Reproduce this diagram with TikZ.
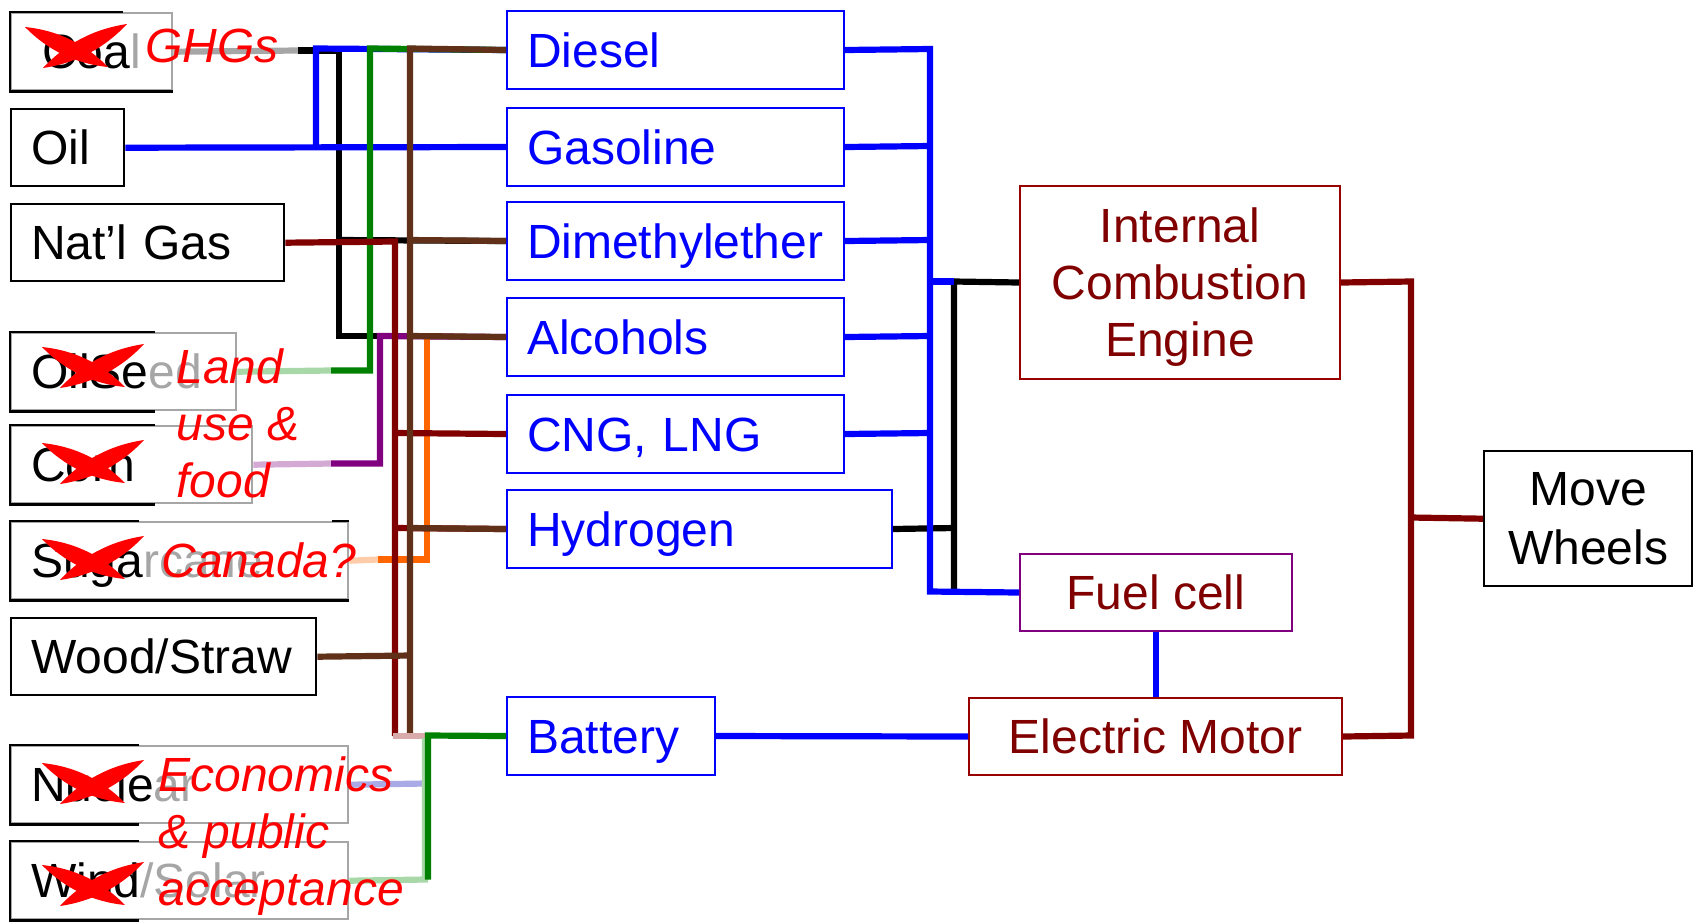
\documentclass[tikz,border=0pt]{standalone}
\usepackage{fontspec}
\setmainfont{Liberation Sans}
\usetikzlibrary{calc}
\definecolor{xblue}{HTML}{0000FF}
\definecolor{xgreen}{HTML}{008000}
\definecolor{xbrown}{HTML}{603018}
\definecolor{xmaroon}{HTML}{800000}
\definecolor{xpurple}{HTML}{800080}
\definecolor{xorange}{HTML}{FF6600}
\definecolor{lgreen}{HTML}{A8D8A8}
\definecolor{lpurple}{HTML}{D4AAD4}
\definecolor{lpeach}{HTML}{FFCCAA}
\definecolor{lblue}{HTML}{AAAAE6}
\definecolor{lpink}{HTML}{D8AAAA}
\definecolor{xgray}{HTML}{A6A6A6}
\definecolor{xred}{HTML}{FF0000}
\definecolor{engred}{HTML}{990000}
\newcommand{\fsz}{\fontsize{24}{28.5}\selectfont}
\newcommand{\redcross}[2]{%
  \begin{scope}[shift={(#1,#2)}]
    \fill[xred] (0,0) .. controls (22.8,23.3) and (50.4,36.7) .. (83,40)
       .. controls (60.2,16.7) and (32.6,3.3) .. cycle;
    \fill[xred] (102,-3) .. controls (79.3,21.4) and (51.3,36.0) .. (18,41)
       .. controls (40.7,16.6) and (68.7,2.0) .. cycle;
  \end{scope}}
\begin{document}
\begin{tikzpicture}[x=0.5pt,y=-0.5pt,
  ln/.style={line width=3.1pt, line join=miter},
  srcbox/.style={draw=black, line width=1.2pt, anchor=north west, inner xsep=10pt, inner ysep=0pt,
     minimum height=38.5pt, text height=17.2pt, text depth=0pt, align=left, font=\fsz},
  fuelbox/.style={draw=xblue, text=xblue, line width=1pt, anchor=north west, inner xsep=10pt, inner ysep=0pt,
     minimum height=39pt, text height=17.2pt, text depth=0pt, align=left, font=\fsz},
  engbox/.style={draw=engred, text=xmaroon, line width=1pt, anchor=north west, inner sep=0pt,
     align=center, font=\fsz},
  redtxt/.style={text=xred, font=\fsz\itshape, inner sep=0pt, align=left, anchor=base west},
  blackedge/.style={draw=black, line width=1.2pt}
]
\useasboundingbox (0,0) rectangle (1700,923);

% source boxes
\node[srcbox, text width=60.5pt, draw=xgray] (coal) at (10,12) {\hspace*{5.5pt}Coa{\color{xgray}l}};
\node[srcbox, text width=36.5pt] (oil) at (10,108) {Oil};
\node[srcbox, text width=116.5pt] (gas) at (10,203) {Nat’l Gas};
\node[srcbox, text width=92.5pt, draw=xgray] (oilseed) at (10,332) {OilSe{\color{xgray}ed}};
\node[srcbox, text width=100.5pt, draw=xgray] (corn) at (10,425) {Corn};
\node[srcbox, text width=148.5pt, draw=xgray] (sugar) at (10,521) {Suga{\color{xgray}rcane}};
\node[srcbox, text width=132.5pt] (wood) at (10,617) {Wood/Straw};
\node[srcbox, text width=148.5pt, draw=xgray] (nuclear) at (10,745) {Nucle{\color{xgray}ar}};
\node[srcbox, text width=148.5pt, draw=xgray] (wind) at (10,841) {Wind{\color{xgray}/Solar}};

% black parts of the partly faded boxes
\draw[blackedge] ($(coal.north west)+(113,0)$) -- (coal.north west) -- (coal.south west) -- (coal.south east);
\draw[blackedge] ($(oilseed.north west)+(145,0)$) -- (oilseed.north west) -- (oilseed.south west) -- ++(145,0);
\draw[blackedge] ($(corn.north west)+(145,0)$) -- (corn.north west) -- (corn.south west) -- ++(145,0);
\draw[blackedge] ($(sugar.north west)+(129,0)$) -- (sugar.north west) -- (sugar.south west) -- (sugar.south east);
\draw[blackedge] ($(sugar.north east)+(-17,0)$) -- (sugar.north east);
\draw[blackedge] ($(nuclear.north west)+(129,0)$) -- (nuclear.north west) -- (nuclear.south west) -- ++(129,0);
\draw[blackedge] ($(wind.north west)+(129,0)$) -- (wind.north west) -- (wind.south west) -- ++(129,0);

% fuel boxes
\node[fuelbox, text width=148.5pt] (diesel) at (506,10) {Diesel};
\node[fuelbox, text width=148.5pt] (gasoline) at (506,107) {Gasoline};
\node[fuelbox, text width=148.5pt] (dme) at (506,201) {Dimethylether};
\node[fuelbox, text width=148.5pt] (alcohols) at (506,297) {Alcohols};
\node[fuelbox, text width=148.5pt] (cng) at (506,394) {CNG, LNG};
\node[fuelbox, text width=172.5pt] (hydrogen) at (506,489) {Hydrogen};
\node[fuelbox, text width=84pt] (battery) at (506,696) {Battery};

% engines
\node[engbox, minimum width=160pt, minimum height=96.5pt] (ice) at (1019,185)
  {\rule{0pt}{0.93em}Internal\\Combustion\\Engine};
\node[engbox, draw=xpurple, minimum width=136pt, minimum height=38.5pt, text height=17.2pt, text depth=0pt]
  (fuelcell) at (1019,553) {Fuel cell};
\node[engbox, minimum width=186.5pt, minimum height=38.5pt, text height=17.2pt, text depth=0pt]
  (motor) at (968,697) {Electric Motor};
\node[engbox, draw=black, text=black, line width=1.2pt, minimum width=104pt, minimum height=67.5pt,
  font=\fontsize{24}{29.5}\selectfont] (wheels) at (1483,450) {Move\\Wheels};

% ---- left connectors
\draw[ln, xgray] (coal.east) -- (298,50.5);
\draw[ln, black] (298,50.5) -- (339,50.5) -- (339,336) -- (380,336);
\draw[ln, black] (339,240) -- (dme.west);
\draw[ln, xblue] (oil.east) -- (gasoline.west);
\draw[ln, xblue] (316,146.5) -- (316,48.5) -- (diesel.west);
\draw[ln, lgreen] (oilseed.east) -- (331,370.5);
\draw[ln, xgreen] (331,370.5) -- (370,370.5) -- (370,48.5) -- (diesel.west);
\draw[ln, lpurple] (corn.east) -- (331,463.5);
\draw[ln, xpurple] (331,463.5) -- (380,463.5) -- (380,336) -- (alcohols.west);
\draw[ln, lpeach] (sugar.east) -- (378,559.5);
\draw[ln, xorange] (378,559.5) -- (427,559.5) -- (427,336);
\draw[ln, xmaroon] (gas.east) -- (395,241.5) -- (395,736);
\draw[ln, xmaroon] (395,433) -- (cng.west);
\draw[ln, xmaroon] (395,528) -- (hydrogen.west);
\draw[ln, xbrown] (diesel.west) -- (410,48.5) -- (410,736);
\draw[ln, xbrown] (410,240) -- (dme.west);
\draw[ln, xbrown] (410,336) -- (alcohols.west);
\draw[ln, xbrown] (410,528) -- (hydrogen.west);
\draw[ln, xbrown] (wood.east) -- (410,655.5);
\draw[ln, lpink] (393,736) -- (427,736);
\draw[ln, lblue] (nuclear.east) -- (425,783.5);
\draw[ln, lgreen] (wind.east) -- (425,879.5) -- (425,738);
\draw[ln, xgreen] (428,879.5) -- (428,735.5) -- (battery.west);

% ---- right connectors
\draw[ln, black] (ice.west) -- (954,281.5) -- (954,591.5);
\draw[ln, black] (hydrogen.east) -- (954,528);
\draw[ln, xblue] (diesel.east) -- (930,49) -- (930,591.5) -- (fuelcell.west);
\draw[ln, xblue] (gasoline.east) -- (930,146);
\draw[ln, xblue] (dme.east) -- (930,240);
\draw[ln, xblue] (alcohols.east) -- (930,336);
\draw[ln, xblue] (cng.east) -- (930,433);
\draw[ln, xblue] (930,281.5) -- (954,281.5);
\draw[ln, xblue] (fuelcell.south) -- (motor.north -| fuelcell.south);
\draw[ln, xblue] (battery.east) -- (motor.west);
\draw[ln, xmaroon] (ice.east) -- (1411,281.5) -- (1411,735.5) -- (motor.east);
\draw[ln, xmaroon] (1411,517.5) -- (wheels.west);

% ---- red annotations
\node[redtxt] (ghg) at (145,62) {GHGs};
\node[redtxt] (land) at (176,497) {Land\\use \&\\food};
\node[redtxt] (canada) at (161,577) {Canada?};
\node[redtxt] (econ) at (158,905) {Economics\\\& public\\acceptance};

\redcross{25}{27}
\redcross{42}{347}
\redcross{42}{443}
\redcross{42}{539}
\redcross{42}{763}
\redcross{42}{865}
\end{tikzpicture}
\end{document}
